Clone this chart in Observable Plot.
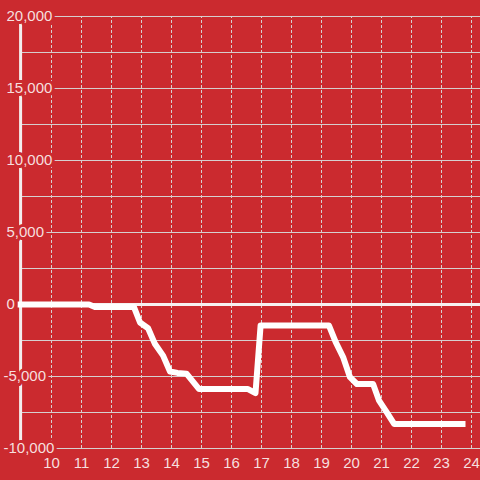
<!DOCTYPE html>
<html>
<head>
<meta charset="utf-8">
<script src="https://cdn.jsdelivr.net/npm/d3@7"></script>
<script src="https://cdn.jsdelivr.net/npm/@observablehq/plot@0.6"></script>
<style>
  html, body { margin: 0; padding: 0; background: #cb2a2f; }
  #chart { width: 480px; height: 480px; }
</style>
</head>
<body>
<div id="chart"></div>
<script>
// Data
const hours = [8.87, 11.25, 11.45, 12.75, 12.95, 13.22, 13.45, 13.72, 13.95, 14.2, 14.5, 14.92, 16.55, 16.8, 16.97, 19.25, 19.47, 19.72, 19.95, 20.18, 20.72, 20.92, 21.15, 21.42, 23.8];
const values = [0, 0, -180, -180, -1250, -1650, -2750, -3550, -4650, -4750, -4800, -5870, -5870, -6150, -1460, -1460, -2600, -3650, -5050, -5520, -5520, -6680, -7400, -8290, -8290];
const xTicks = [10, 11, 12, 13, 14, 15, 16, 17, 18, 19, 20, 21, 22, 23, 24];
const yTicks = [-10000, -5000, 0, 5000, 10000, 15000, 20000];
const yGrid = [-10000, -7500, -5000, -2500, 2500, 5000, 7500, 10000, 12500, 15000, 17500, 20000];

const data = hours.map((h, i) => ({h, v: values[i]}));

const bg = "#cb2a2f";
const textColor = "#f6dfdf";
const gridColor = "#d6d0d0";
const axisX = 8.97;
const fmt = d3.format(",");

const chart = Plot.plot({
  width: 480,
  height: 480,
  marginTop: 0, marginBottom: 0, marginLeft: 0, marginRight: 0,
  style: {background: bg, fontFamily: "'Liberation Sans', Arial, sans-serif"},
  x: {domain: [8.3, 24.3], axis: null},
  y: {domain: [-12222.2, 21111.1], axis: null},
  marks: [
    Plot.ruleY(yGrid, {x1: axisX, x2: 24.3, stroke: gridColor, strokeWidth: 1}),
    Plot.ruleX(xTicks, {y1: -10000, y2: 20000, stroke: gridColor, strokeWidth: 1, strokeDasharray: "3,2"}),
    Plot.ruleY([0], {x1: axisX, x2: 24.3, stroke: "#f7f1f1", strokeWidth: 3}),
    Plot.ruleX([axisX], {y1: -10000, y2: 20000, stroke: "#f3eeee", strokeWidth: 3}),
    Plot.line(data, {x: "h", y: "v", stroke: "white", strokeWidth: 6, strokeLinejoin: "round", strokeLinecap: "butt"}),
    Plot.text(yTicks.filter(d => d >= 0), {
      x: 8.3, y: d => d, text: d => fmt(d), textAnchor: "start", dx: 6,
      fill: textColor, stroke: bg, strokeWidth: 6, paintOrder: "stroke", fontSize: 15
    }),
    Plot.text(yTicks.filter(d => d < 0), {
      x: 8.3, y: d => d, text: d => "-" + fmt(-d), textAnchor: "start", dx: 3,
      fill: textColor, stroke: bg, strokeWidth: 6, paintOrder: "stroke", fontSize: 15
    }),
    Plot.text(xTicks, {
      x: d => d, y: -11000, text: d => String(d),
      fill: textColor, fontSize: 15
    })
  ]
});

document.getElementById("chart").appendChild(chart);
</script>
</body>
</html>
